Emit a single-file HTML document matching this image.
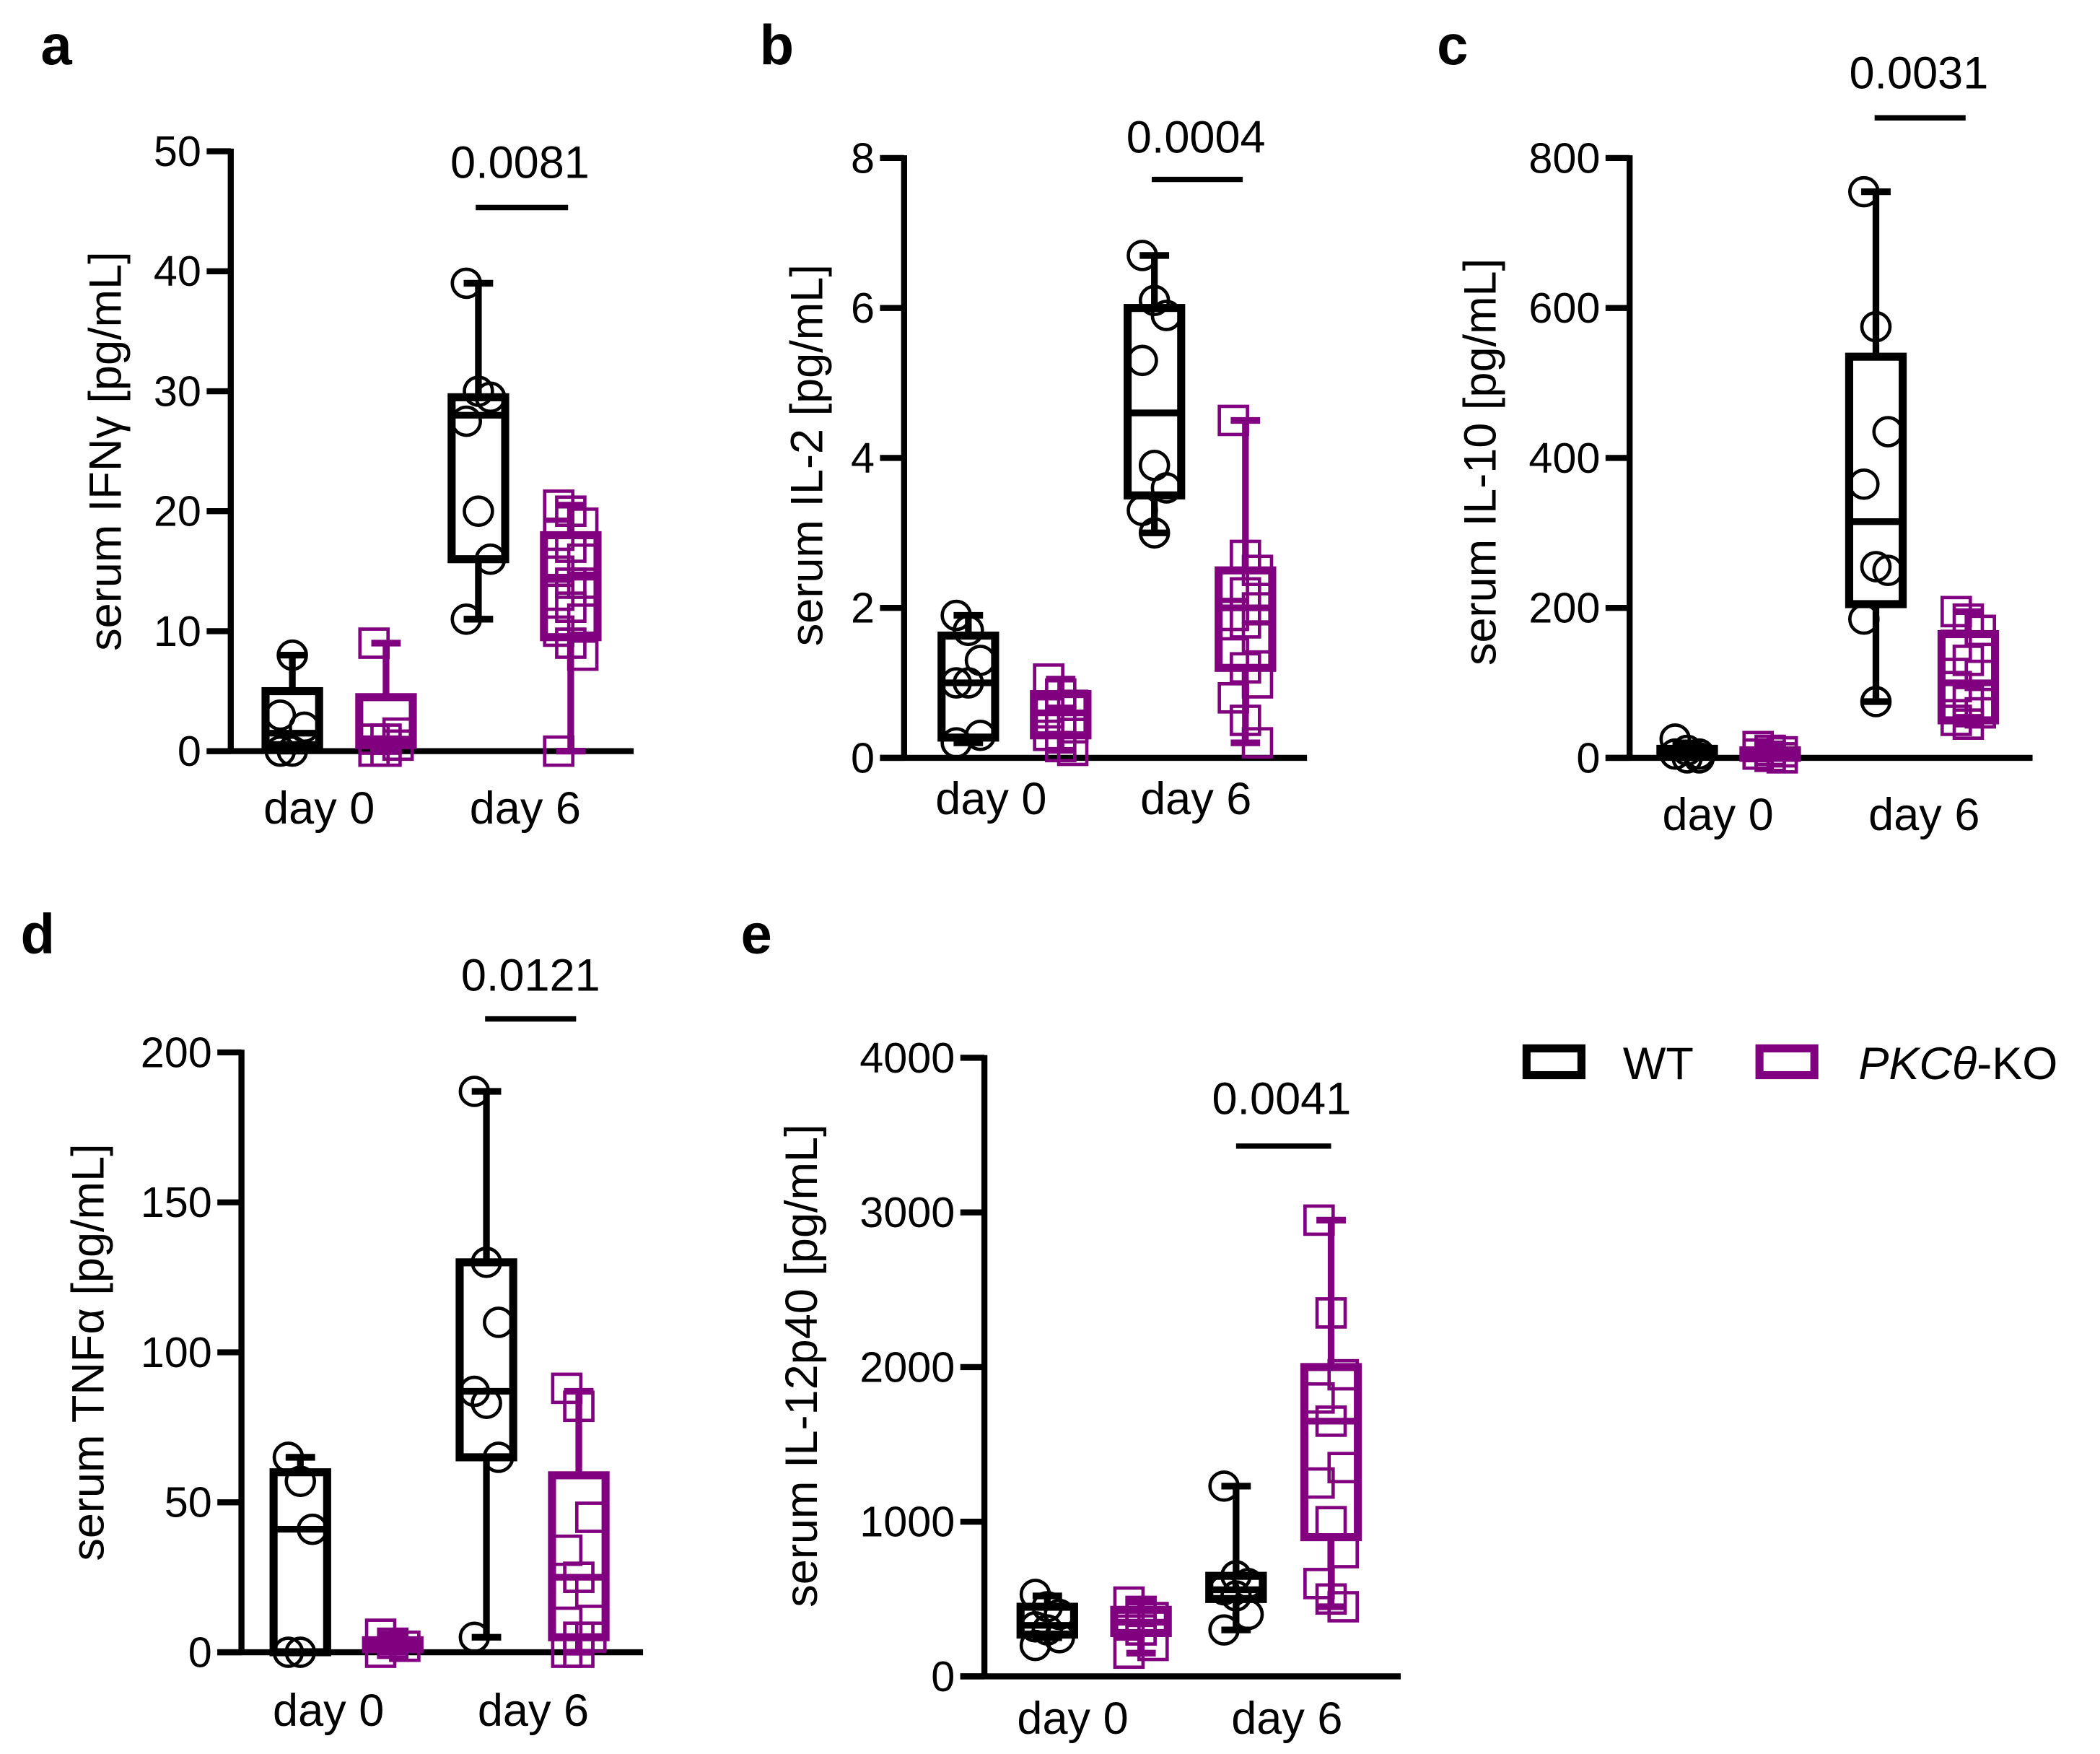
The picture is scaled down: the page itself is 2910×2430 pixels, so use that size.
<!DOCTYPE html>
<html><head><meta charset="utf-8">
<style>
html,body{margin:0;padding:0;background:#fff;}
svg{display:block;}
text{font-family:"Liberation Sans",sans-serif;fill:#000;}
</style></head>
<body>
<svg id="fig" width="2910" height="2430" viewBox="0 0 1568 1310" xmlns="http://www.w3.org/2000/svg"></svg>
<script>
// ---- data ----
const groupNames = ["WT day 0","KO day 0","WT day 6","KO day 6"];
const aTicks = [0,10,20,30,40,50];
const aBoxes = [[0,0.5,1.5,5,8],[0,0.5,1,4.5,9],[11,16,28,29.5,39],[0,9.5,14.5,18,20.5]];
const aPoints = [[0,0,2,3,8],[0,0,0.5,1,1,1.5,9],[39,30,29.5,27.5,20,16,11],[20.5,20,19,18,17,16,15,14,14,13,12,11,10,9,8,0]];
const bTicks = [0,2,4,6,8];
const bBoxes = [[0.2,0.27,1.0,1.63,1.9],[0.1,0.3,0.6,0.85,1.05],[3.0,3.5,4.6,6.0,6.7],[0.2,1.2,2.0,2.5,4.5]];
const bPoints = [[1.9,1.7,1.3,1.0,1.0,0.3,0.2],[1.05,0.85,0.7,0.6,0.5,0.4,0.3,0.15,0.1],[6.7,6.1,5.9,5.3,3.9,3.6,3.3,3.0],[4.5,2.7,2.5,2.3,2.2,2.0,1.9,1.8,1.6,1.4,1.2,1.0,0.8,0.5,0.2]];
const cTicks = [0,200,400,600,800];
const cBoxes = [[0,2,5,12,20],[0,0,5,10,15],[75,205,315,535,755],[45,50,100,165,195]];
const cPoints = [[25,10,5,5,0,0],[15,10,8,5,2,0],[755,575,435,365,255,250,185,75],[195,185,170,150,130,110,95,75,60,50,45]];
const dTicks = [0,50,100,150,200];
const dBoxes = [[0,0,41,60,65],[0,1,2,4,6],[5,65,87,130,187],[0,5,25,59,87]];
const dPoints = [[65,57,41,0,0],[6,3,2,0],[187,130,110,87,83,65,5],[88,82,45,34,25,20,10,5,5,0,0]];
const eTicks = [0,1000,2000,3000,4000];
const eBoxes = [[250,270,330,450,520],[150,280,350,430,480],[300,500,560,650,1230],[450,900,1650,2000,2950]];
const ePoints = [[530,450,400,320,300,250,200],[480,420,380,340,300,200,150],[1230,650,600,560,520,400,300],[2950,2350,1950,1800,1650,1350,1250,1000,800,600,500,450]];
const pValues = ["0.0081","0.0004","0.0031","0.0121","0.0041"];

const NS="http://www.w3.org/2000/svg";
const svg=document.getElementById('fig');
const PURPLE="#800080";
function mk(tag,attrs,parent){const e=document.createElementNS(NS,tag);for(const k in attrs)e.setAttribute(k,attrs[k]);(parent||svg).appendChild(e);return e;}

const layouts=[
 {id:"a",letter:[30,48],ax:172,y0:561,y1:113,xend:473,cx:[218,288,357,426],lab:[[238,"day 0"],[392,"day 6"]],ly:615,p:[388,133],bar:[355,424,155],title:"serum IFNγ [pg/mL]",tx:78,ty:337,ticks:aTicks,boxes:aBoxes,points:aPoints,p_i:0},
 {id:"b",letter:[567,48],ax:675,y0:566,y1:118,xend:976,cx:[723,792,862,930],lab:[[740,"day 0"],[893,"day 6"]],ly:608,p:[893,114],bar:[860,928,134],title:"serum IL-2 [pg/mL]",tx:602,ty:340,ticks:bTicks,boxes:bBoxes,points:bPoints,p_i:1},
 {id:"c",letter:[1073,48],ax:1217,y0:566,y1:118,xend:1518,cx:[1260,1322,1401,1470],lab:[[1283,"day 0"],[1437,"day 6"]],ly:620,p:[1433,66],bar:[1400,1468,88],title:"serum IL-10 [pg/mL]",tx:1105,ty:345,ticks:cTicks,boxes:cBoxes,points:cPoints,p_i:2},
 {id:"d",letter:[15,712],ax:180,y0:1234,y1:786,xend:480,cx:[224,293,363,432],lab:[[245,"day 0"],[398,"day 6"]],ly:1289,p:[396,740],bar:[362,430,761],title:"serum TNFα  [pg/mL]",tx:65,ty:1010,ticks:dTicks,boxes:dBoxes,points:dPoints,p_i:3},
 {id:"e",letter:[553,712],ax:735,y0:1252,y1:790,xend:1046,cx:[782,852,923,994],lab:[[801,"day 0"],[961,"day 6"]],ly:1295,p:[957,832],bar:[923,994,856],title:"serum IL-12p40 [pg/mL]",tx:598,ty:1020,ticks:eTicks,boxes:eBoxes,points:ePoints,p_i:4}
];

layouts.forEach(L=>{
  const g=mk('g',{});
  
  
  const tmax=L.ticks[L.ticks.length-1];
  const y=v=>L.y0-(v/tmax)*(L.y0-L.y1);
  const lt=mk('text',{x:L.letter[0],y:L.letter[1],'font-size':42,'font-weight':'bold'},g);lt.textContent=L.id;
  
  
  const ya=mk('line',{x1:L.ax,y1:L.y1-2,x2:L.ax,y2:L.y0+2,stroke:'#000','stroke-width':4.5},g);
  
  
  const xa=mk('line',{x1:L.ax-18,y1:L.y0,x2:L.xend,y2:L.y0,stroke:'#000','stroke-width':4.5},g);
  
  
  L.ticks.forEach(t=>{
    const tk=mk('line',{x1:L.ax-18,y1:y(t),x2:L.ax,y2:y(t),stroke:'#000','stroke-width':4.5},g);
    
    
    const tl=mk('text',{x:L.ax-22,y:y(t)+11,'font-size':32,'text-anchor':'end'},g);tl.textContent=t;
    
    
  });
  const yt=mk('text',{x:0,y:0,'font-size':34,'text-anchor':'middle',transform:`translate(${L.tx+12},${L.ty}) rotate(-90)`,'xml:space':'preserve'},g);yt.textContent=L.title;
  
  
  L.lab.forEach(l=>{const t=mk('text',{x:l[0],y:L.ly,'font-size':34,'text-anchor':'middle'},g);t.textContent=l[1];
    
    });
  const pt=mk('text',{x:L.p[0],y:L.p[1],'font-size':34,'text-anchor':'middle'},g);pt.textContent=pValues[L.p_i];
  
  
  const pb=mk('line',{x1:L.bar[0],y1:L.bar[2],x2:L.bar[1],y2:L.bar[2],stroke:'#000','stroke-width':4},g);
  
  
  L.boxes.forEach((b,gi)=>{
    const col=gi%2===0?'#000':PURPLE;
    const cx=L.cx[gi];
    const gg=mk('g',{},g);
    
    
    L.points[gi].forEach((v,i)=>{
      const off=((i%3)-1)*9;
      let m;
      if(gi%2===0){m=mk('circle',{cx:cx+off,cy:y(v),r:10.5,fill:'none',stroke:col,'stroke-width':2.5},gg);}
      else{m=mk('rect',{x:cx+off-10.5,y:y(v)-10.5,width:21,height:21,fill:'none',stroke:col,'stroke-width':2.5},gg);}
      
      
    });
    const w1=mk('line',{x1:cx,y1:y(b[0]),x2:cx,y2:y(b[1]),stroke:col,'stroke-width':5},gg);
    
    
    const w2=mk('line',{x1:cx,y1:y(b[3]),x2:cx,y2:y(b[4]),stroke:col,'stroke-width':5},gg);
    
    
    [b[0],b[4]].forEach(v=>{const c=mk('line',{x1:cx-11,y1:y(v),x2:cx+11,y2:y(v),stroke:col,'stroke-width':5},gg);
      
      });
    const r=mk('rect',{x:cx-20,y:y(b[3]),width:40,height:Math.max(0.5,y(b[1])-y(b[3])),fill:'none',stroke:col,'stroke-width':6},gg);
    
    
    const md=mk('line',{x1:cx-20,y1:y(b[2]),x2:cx+20,y2:y(b[2]),stroke:col,'stroke-width':5},gg);
    
    
  });
});

const lg=mk('g',{});


const l1=mk('rect',{x:1140,y:783,width:41,height:20,fill:'none',stroke:'#000','stroke-width':6},lg);


const t1=mk('text',{x:1212,y:806,'font-size':34},lg);t1.textContent="WT";


const l2=mk('rect',{x:1314,y:783,width:41,height:20,fill:'none',stroke:PURPLE,'stroke-width':6},lg);


const t2=mk('text',{x:1388,y:806,'font-size':34},lg);
const ts=mk('tspan',{'font-style':'italic'},t2);ts.textContent="PKCθ";
const ts2=mk('tspan',{},t2);ts2.textContent="-KO";


</script>
</body></html>
